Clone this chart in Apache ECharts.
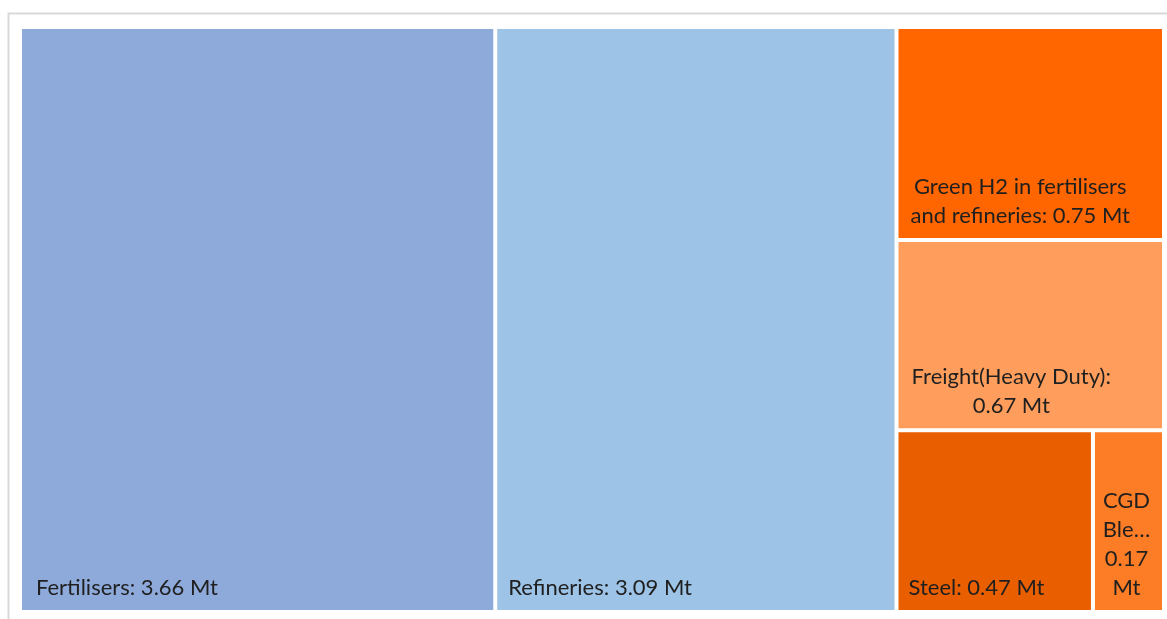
<!DOCTYPE html>
<html>
<head>
<meta charset="utf-8">
<script src="https://cdn.jsdelivr.net/npm/echarts@6/dist/echarts.min.js"></script>
<style>
  html, body { margin: 0; padding: 0; background: #fff; }
  #chart { width: 1167px; height: 619px; }
</style>
</head>
<body>
<div id="chart"></div>
<script>
// hydrogen demand by sector (Mt)
const categories = [
  'Fertilisers',
  'Refineries',
  'Green H2 in fertilisers and refineries',
  'Freight(Heavy Duty)',
  'Steel',
  'CGD Blending'
];
const values = [3.66, 3.09, 0.75, 0.67, 0.47, 0.17];
const colors = ['#8EAADB', '#9DC3E6', '#FF6600', '#FF9E5C', '#E95F00', '#FD7D26'];

// how each tile's label is wrapped, like the original
const labelText = [
  (n, v) => n + ': ' + v + ' Mt',
  (n, v) => n + ': ' + v + ' Mt',
  (n, v) => 'Green H2 in fertilisers\nand refineries: ' + v + ' Mt',
  (n, v) => n + ':\n' + v + ' Mt',
  (n, v) => n + ': ' + v + ' Mt',
  (n, v) => 'CGD\nBle\u2026\n' + v + '\nMt'
];
const labelPos = [
  { position: 'insideBottomLeft', align: 'left', padding: [0, 0, 8, 14] },
  { position: 'insideBottomLeft', align: 'left', padding: [0, 0, 8, 11] },
  { position: 'insideBottom', align: 'center', padding: [0, 20, 8, 0] },
  { position: 'insideBottom', align: 'center', padding: [0, 38, 8, 0] },
  { position: 'insideBottomLeft', align: 'left', padding: [0, 0, 8, 10] },
  { position: 'insideBottom', align: 'center', padding: [0, 4, 8, 0] }
];

const chart = echarts.init(document.getElementById('chart'));

const data = categories.map((name, i) => ({
  name: name,
  value: values[i],
  itemStyle: { color: colors[i] },
  label: Object.assign({
    formatter: () => labelText[i](name, values[i].toFixed(2))
  }, labelPos[i])
}));

const option = {
  animation: false,
  graphic: [{
    type: 'rect',
    silent: true,
    shape: { x: 8.5, y: 13.5, width: 1200, height: 700 },
    style: { fill: 'none', stroke: '#d9d9d9', lineWidth: 2 }
  }],
  series: [{
    type: 'treemap',
    left: 22,
    top: 29,
    right: 5,
    bottom: 9,
    roam: false,
    nodeClick: false,
    breadcrumb: { show: false },
    squareRatio: 1,
    itemStyle: { borderWidth: 0, gapWidth: 4, borderColor: '#fff' },
    levels: [{ itemStyle: { borderWidth: 0, gapWidth: 4 } }],
    label: {
      show: true,
      color: '#1f1f1f',
      fontFamily: 'Lato',
      fontSize: 22,
      lineHeight: 29,
      overflow: 'none'
    },
    data: data
  }]
};

chart.setOption(option);
</script>
</body>
</html>
